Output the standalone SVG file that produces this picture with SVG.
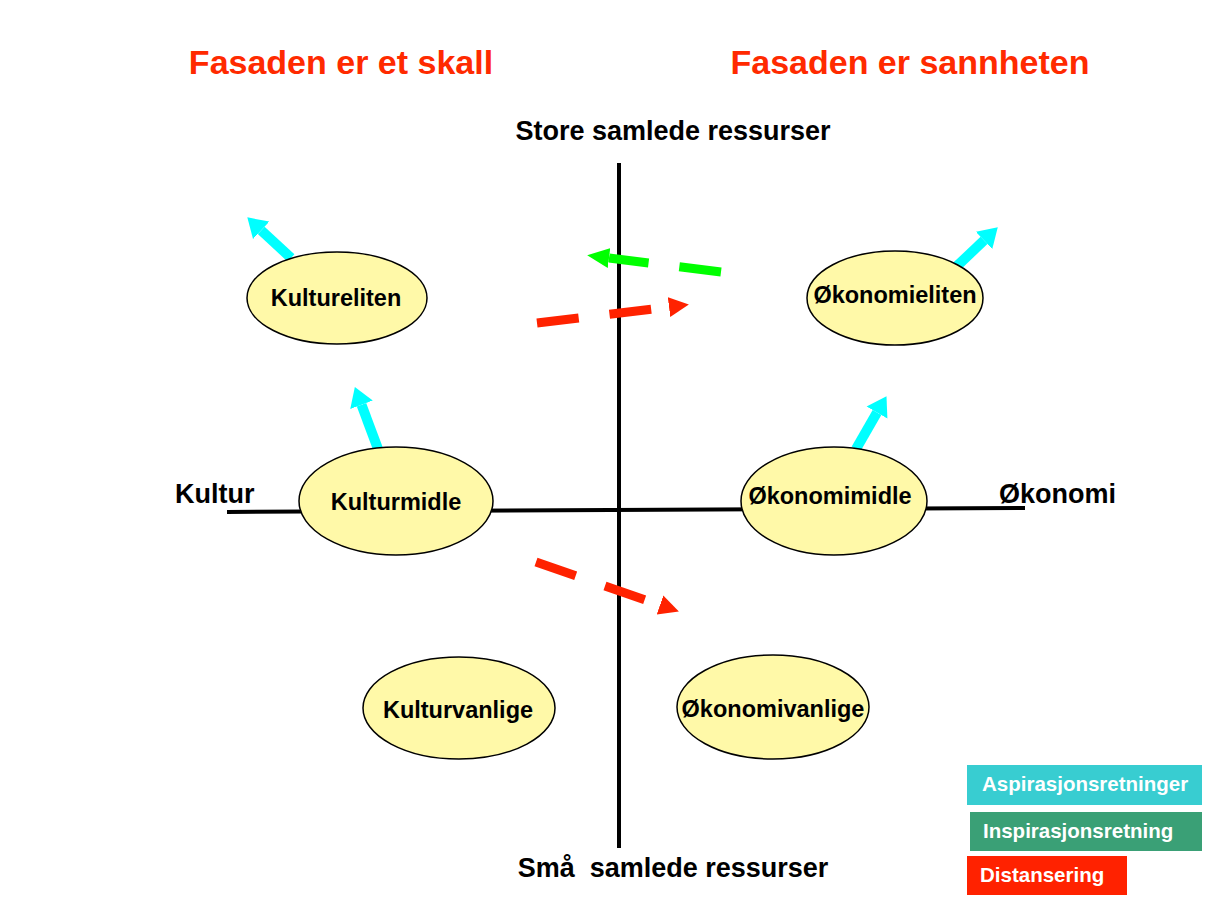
<svg xmlns="http://www.w3.org/2000/svg" width="1218" height="922" viewBox="0 0 1218 922">
<style>
  text { font-family: "Liberation Sans", Arial, sans-serif; font-weight: bold; }
  .title { font-size: 34px; fill: #FF2A00; text-anchor: middle; }
  .axislbl { font-size: 27px; fill: #000; }
  .nodelbl { font-size: 23.5px; fill: #000; text-anchor: middle; }
  .node ellipse { fill: #FFF9A8; stroke: #000; stroke-width: 1.5; }
  .axis { stroke: #000; stroke-width: 4; fill: none; }
  .asp { stroke: #00FFFF; stroke-width: 10; fill: none; marker-end: url(#hCyan); }
  .dashR { stroke: #FF2200; stroke-width: 9; fill: none; stroke-dasharray: 42 31; marker-end: url(#hRed); }
  .dashG { stroke: #00FF00; stroke-width: 9; fill: none; stroke-dasharray: 42 31; marker-end: url(#hGreen); }
  .legtxt { font-size: 20.5px; fill: #FFFFFF; }
</style>
<defs>
  <marker id="hCyan" markerUnits="userSpaceOnUse" viewBox="0 -13 20 26" markerWidth="20" markerHeight="26" refX="0" refY="0" orient="auto">
    <path d="M0,-12 L19,0 L0,12 z" fill="#00FFFF"/>
  </marker>
  <marker id="hRed" markerUnits="userSpaceOnUse" viewBox="0 -12 22 24" markerWidth="22" markerHeight="24" refX="0" refY="0" orient="auto">
    <path d="M0,-10 L20,0 L0,10 z" fill="#FF2200"/>
  </marker>
  <marker id="hGreen" markerUnits="userSpaceOnUse" viewBox="0 -12 24 24" markerWidth="24" markerHeight="24" refX="0" refY="0" orient="auto">
    <path d="M0,-10 L22,0 L0,10 z" fill="#00FF00"/>
  </marker>
</defs>
<rect width="1218" height="922" fill="#FFFFFF"/>

<g id="titles">
  <text class="title" x="341" y="74">Fasaden er et skall</text>
  <text class="title" x="910" y="74">Fasaden er sannheten</text>
</g>

<g id="axes">
  <line class="axis" x1="619" y1="163" x2="619" y2="848"/>
  <line class="axis" x1="227" y1="512" x2="1025" y2="508"/>
  <text class="axislbl" x="673" y="140" text-anchor="middle">Store samlede ressurser</text>
  <text class="axislbl" x="673" y="877" text-anchor="middle" xml:space="preserve" style="white-space:pre">Små  samlede ressurser</text>
  <text class="axislbl" x="175" y="503">Kultur</text>
  <text class="axislbl" x="999" y="503">Økonomi</text>
</g>

<g id="connectors">
  <line class="asp" x1="291" y1="258" x2="261.2" y2="230.3"/>
  <line class="asp" x1="378" y1="449" x2="361.5" y2="404.8"/>
  <line class="asp" x1="957" y1="266" x2="984" y2="240.4"/>
  <line class="asp" x1="856" y1="449" x2="877" y2="412.6"/>
  <line class="dashG" x1="721" y1="272" x2="609" y2="258"/>
  <line class="dashR" x1="537" y1="323" x2="669" y2="307"/>
  <line class="dashR" x1="536" y1="562" x2="660" y2="605"/>
</g>

<g id="kultureliten" class="node">
  <ellipse cx="337" cy="298" rx="90" ry="46"/>
  <text class="nodelbl" x="336" y="306">Kultureliten</text>
</g>
<g id="okonomieliten" class="node">
  <ellipse cx="895" cy="298" rx="88" ry="47"/>
  <text class="nodelbl" x="895" y="303">Økonomieliten</text>
</g>
<g id="kulturmidle" class="node">
  <ellipse cx="396" cy="501" rx="97" ry="54"/>
  <text class="nodelbl" x="396" y="510">Kulturmidle</text>
</g>
<g id="okonomimidle" class="node">
  <ellipse cx="834" cy="501" rx="93" ry="54"/>
  <text class="nodelbl" x="830" y="504">Økonomimidle</text>
</g>
<g id="kulturvanlige" class="node">
  <ellipse cx="459" cy="708" rx="96" ry="51"/>
  <text class="nodelbl" x="458" y="718">Kulturvanlige</text>
</g>
<g id="okonomivanlige" class="node">
  <ellipse cx="773" cy="707" rx="96" ry="52"/>
  <text class="nodelbl" x="773" y="717">Økonomivanlige</text>
</g>

<g id="legend">
  <g id="leg-asp">
    <rect x="967" y="765" width="235" height="40" fill="#38CDD1"/>
    <text class="legtxt" x="982" y="791">Aspirasjonsretninger</text>
  </g>
  <g id="leg-insp">
    <rect x="970" y="812" width="232" height="39" fill="#3AA076"/>
    <text class="legtxt" x="983" y="838">Inspirasjonsretning</text>
  </g>
  <g id="leg-dist">
    <rect x="967" y="856" width="160" height="39" fill="#FF2200"/>
    <text class="legtxt" x="980" y="882">Distansering</text>
  </g>
</g>
</svg>
